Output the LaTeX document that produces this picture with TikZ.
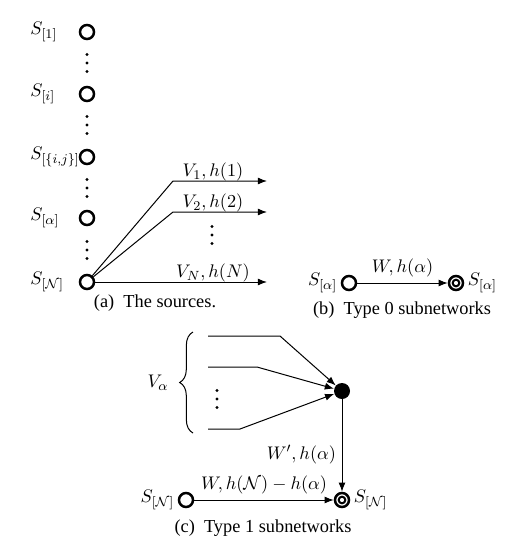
\documentclass[tikz,border=0pt]{standalone}
\usepackage{amsmath}
\usepackage{fontspec}
\setmainfont{Liberation Serif}
\usetikzlibrary{arrows.meta,decorations.pathreplacing}

\begin{document}
\begin{tikzpicture}[x=0.6pt, y=-0.6pt,
  every node/.style = {font=\fontsize{11}{13}\selectfont},
  src/.style = {circle, draw, line width=1.5pt, minimum size=8.4pt, inner sep=0pt},
  sink/.style = {src, path picture={\draw[line width=1.2pt] (path picture bounding box.center) circle (2pt);}},
  hub/.style = {circle, fill, minimum size=9.6pt, inner sep=0pt},
  lbl/.style = {anchor=west, inner sep=0pt},
  edge/.style = {-{Latex[length=5.5pt,width=4.2pt]}, line width=0.6pt},
  flow/.style = {line width=0.6pt}]
\useasboundingbox (0,0) rectangle (520,546);

% (a) the sources
\node[src] (s1)  at (87,32)  {};
\node[src] (si)  at (87,94)  {};
\node[src] (sij) at (87,157) {};
\node[src] (sa)  at (87,218) {};
\node[src] (sN)  at (87,282) {};
\node[lbl] (l1)  at (30,32)  {$S_{[1]}$};
\node[lbl] (li)  at (30,94)  {$S_{[i]}$};
\node[lbl] (lij) at (30,157) {$S_{[\{i,j\}]}$};
\node[lbl] (la)  at (30,218) {$S_{[\alpha]}$};
\node[lbl] (lN)  at (30,282) {$S_{[\mathcal{N}]}$};
% vertical dots
\foreach \x/\y in {87/63, 87/125, 87/188, 87/250, 212/235, 217/399}
  \foreach \d in {-8.5,0,8.5}
    \fill (\x,\y+\d) circle (0.95pt);

\coordinate (k1) at (173,181);
\coordinate (k2) at (173,212);
\coordinate (e1) at (267,181);
\coordinate (e2) at (267,212);
\coordinate (eN) at (267,282);
\draw[edge] (sN) -- (k1) -- (e1);
\draw[edge] (sN) -- (k2) -- (e2);
\draw[edge] (sN) -- (eN);
\node (v1) at (213,172) {$V_1, h(1)$};
\node (v2) at (213,203) {$V_2, h(2)$};
\node (vN) at (213,273) {$V_N, h(N)$};
\node (capa) at (155,303) {(a)\ \ The sources.};

% (b) type 0 subnetworks
\node[src, label={[inner sep=2pt]left:$S_{[\alpha]}$}] (ta) at (349,283) {};
\node[sink, label={[inner sep=2pt]right:$S_{[\alpha]}$}] (tb) at (456,283) {};
\draw[edge] (ta) -- node[above] {$W, h(\alpha)$} (tb);
\node (capb) at (402,310) {(b)\ \ Type 0 subnetworks};

% (c) type 1 subnetworks
\draw[flow, decorate, decoration={brace, amplitude=8pt}] (193,433) -- (193,332);
\node (va) at (158,383) {$V_\alpha$};
\node[hub] (m) at (342,391) {};
\coordinate (i1) at (208,336);
\coordinate (i2) at (208,367);
\coordinate (i3) at (208,429);
\coordinate (b1) at (280,336);
\coordinate (b2) at (257,367);
\coordinate (b3) at (240,429);
\draw[edge] (i1) -- (b1) -- (m);
\draw[edge] (i2) -- (b2) -- (m);
\draw[edge] (i3) -- (b3) -- (m);

\node[src, label={[inner sep=2pt]left:$S_{[\mathcal{N}]}$}] (cN) at (186,500) {};
\node[sink, label={[inner sep=2pt]right:$S_{[\mathcal{N}]}$}] (dN) at (342,500) {};
\draw[edge] (m) -- node[pos=0.6, left] {$W', h(\alpha)$} (dN);
\draw[edge] (cN) -- node[above] {$W, h(\mathcal{N}) - h(\alpha)$} (dN);
\node (capc) at (263,528) {(c)\ \ Type 1 subnetworks};
\end{tikzpicture}
\end{document}
